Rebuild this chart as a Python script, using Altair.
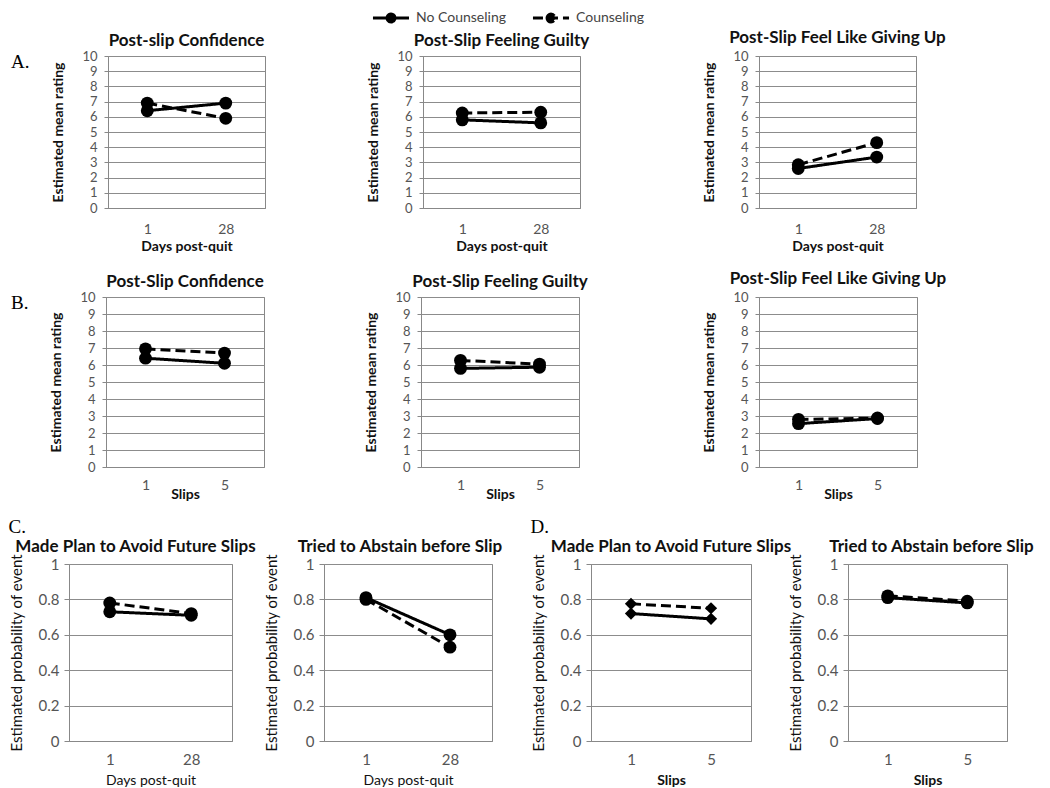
import altair as alt
import pandas as pd

FONT = "Lato"
SERIF = "Liberation Serif"
GROUPS = ["No Counseling", "Counseling"]

DAYS = ["1", "28"]
SLIPS = ["1", "5"]

# Row A: ratings by days post-quit
A_TITLES = ["Post-slip Confidence", "Post-Slip Feeling Guilty", "Post-Slip Feel Like Giving Up"]
A_NO = [[6.4, 6.9], [5.8, 5.6], [2.6, 3.35]]
A_CO = [[6.9, 5.9], [6.25, 6.3], [2.85, 4.3]]

# Row B: ratings by number of slips
B_TITLES = ["Post-Slip Confidence", "Post-Slip Feeling Guilty", "Post-Slip Feel Like Giving Up"]
B_NO = [[6.4, 6.1], [5.8, 5.87], [2.55, 2.85]]
B_CO = [[6.95, 6.7], [6.27, 6.05], [2.8, 2.88]]

# Rows C / D: probabilities
CD_TITLES = ["Made Plan to Avoid Future Slips", "Tried to Abstain before Slip"]
C_NO = [[0.73, 0.71], [0.81, 0.60]]
C_CO = [[0.78, 0.72], [0.80, 0.53]]
D_NO = [[0.72, 0.69], [0.81, 0.78]]
D_CO = [[0.775, 0.75], [0.82, 0.79]]

RATING_TICKS = list(range(0, 11))
PROB_TICKS = [0, 0.2, 0.4, 0.6, 0.8, 1.0]

LEGEND_PATH = ("M-1,0L1,0M-0.22,0A0.22,0.22,0,1,1,0.22,0"
               "A0.22,0.22,0,1,1,-0.22,0Z")


def panel(title, cats, xtitle, no, co, kind, width, height,
          shape="circle", title_dx=0, x_lp=12, x_tp=3, t_off=0):
    df = pd.DataFrame({
        "x": cats + cats,
        "y": no + co,
        "group": [GROUPS[0]] * len(cats) + [GROUPS[1]] * len(cats),
    })
    if kind == "rating":
        yscale = alt.Scale(domain=[0, 10], nice=False, zero=True)
        yaxis = alt.Axis(values=RATING_TICKS, title="Estimated mean rating",
                         grid=True, tickSize=4, labelPadding=7,
                         minExtent=30, maxExtent=30, titlePadding=13,
                         titleFontSize=14, titleFontWeight="bold",
                         labelFontSize=13)
        xlab, xtw = 14, "bold"
    else:
        yscale = alt.Scale(domain=[0, 1], nice=False, zero=True)
        yaxis = alt.Axis(values=PROB_TICKS, format=".1~f",
                         title="Estimated probability of event",
                         grid=True, tickSize=5, labelPadding=5,
                         minExtent=33, maxExtent=33, titlePadding=12,
                         titleFontSize=15, titleFontWeight="normal",
                         labelFontSize=15)
        xlab, xtw = 15, ("bold" if xtitle == "Slips" else "normal")
    xaxis = alt.Axis(title=xtitle, labelAngle=0, ticks=False, tickSize=0,
                     grid=False, labelPadding=x_lp, titlePadding=x_tp,
                     labelFontSize=xlab, titleFontSize=14,
                     titleFontWeight=xtw)
    base = alt.Chart(df).encode(
        x=alt.X("x:N", sort=cats, scale=alt.Scale(type="point", padding=0.5),
                axis=xaxis),
        y=alt.Y("y:Q", scale=yscale, axis=yaxis),
    )
    line = base.mark_line(color="black", strokeWidth=3).encode(
        strokeDash=alt.StrokeDash(
            "group:N",
            scale=alt.Scale(domain=GROUPS, range=[[1, 0], [10, 5]]),
            legend=alt.Legend(
                title=None, orient="none", legendX=360, legendY=-58,
                direction="horizontal", symbolType=LEGEND_PATH,
                symbolSize=1300, symbolStrokeWidth=3,
                symbolStrokeColor="black", symbolFillColor="black",
                labelFont=FONT, labelFontSize=14, labelColor="#444",
                columnPadding=20, labelOffset=5),
        )
    )
    size = 150 if shape == "diamond" else 165
    pts = base.mark_point(shape=shape, filled=True, color="black",
                          size=size, opacity=1).encode(detail="group:N")
    return alt.layer(line, pts).properties(
        width=width, height=height,
        title=alt.TitleParams(title, frame="group", anchor="middle",
                              offset=t_off, dx=title_dx),
    )


def spacer(letter=None):
    """Invisible 1px cell that anchors the row; optionally carries the
    panel letter (A., B.) as its title."""
    ch = alt.Chart(pd.DataFrame({"v": [0]})).mark_point(
        size=0, opacity=0).encode(
        x=alt.X("v:Q", axis=None), y=alt.Y("v:Q", axis=None))
    props = dict(width=1, height=1,
                 view=alt.ViewBackground(stroke="transparent"))
    if letter:
        props["title"] = alt.TitleParams(
            letter, orient="bottom", anchor="start", frame="group",
            baseline="top", align="left", font=SERIF, fontSize=19,
            fontWeight="normal", color="black", offset=0, dy=-4)
    return ch.properties(**props)


def letter_top(txt):
    return alt.TitleParams(txt, anchor="start", font=SERIF, fontSize=19,
                           fontWeight="normal", color="black", offset=0,
                           frame="bounds")


A = [panel(A_TITLES[i], DAYS, "Days post-quit", A_NO[i], A_CO[i],
           "rating", 157, 152, x_lp=14, x_tp=3, t_off=(3 if i == 2 else 0))
     for i in range(3)]
B = [panel(B_TITLES[i], SLIPS, "Slips", B_NO[i], B_CO[i],
           "rating", 158, 170, x_lp=11, x_tp=-5, t_off=(3 if i == 2 else 0))
     for i in range(3)]

C1 = panel(CD_TITLES[0], DAYS, "Days post-quit", C_NO[0], C_CO[0],
           "prob", 163, 177, title_dx=-15, x_lp=11, x_tp=6, t_off=-2)
C2 = panel(CD_TITLES[1], DAYS, "Days post-quit", C_NO[1], C_CO[1],
           "prob", 168, 177, title_dx=-8, x_lp=11, x_tp=6, t_off=-2)
D1 = panel(CD_TITLES[0], SLIPS, "Slips", D_NO[0], D_CO[0],
           "prob", 160, 177, shape="diamond", x_lp=11, x_tp=6, t_off=-2)
D2 = panel(CD_TITLES[1], SLIPS, "Slips", D_NO[1], D_CO[1],
           "prob", 159, 177, title_dx=4, x_lp=11, x_tp=6, t_off=-2)

rowA = alt.hconcat(
    spacer("A."),
    alt.hconcat(A[0], alt.hconcat(A[1], A[2], spacing=179, bounds="flush"),
                spacing=99),
    spacing=20)
rowB = alt.hconcat(
    spacer("B."),
    alt.hconcat(B[0], alt.hconcat(B[1], B[2], spacing=180, bounds="flush"),
                spacing=98),
    spacing=19)
groupC = alt.hconcat(C1, C2, spacing=92, bounds="flush", title=letter_top("C."))
groupD = alt.hconcat(D1, D2, spacing=97, bounds="flush", title=letter_top("D."))
rowCD = alt.hconcat(spacer(), alt.hconcat(groupC, groupD, spacing=27),
                    spacing=-5)

chart = alt.vconcat(
    alt.vconcat(rowA, rowB, spacing=15),
    rowCD,
    spacing=16,
).properties(
    padding={"left": 0, "top": -10, "right": 0, "bottom": 0},
    background="white",
).configure(
    font=FONT,
).configure_axis(
    labelFont=FONT, titleFont=FONT, labelColor="#555", titleColor="#111",
    domainColor="#888", tickColor="#888", gridColor="#8c8c8c",
    domainWidth=1, gridWidth=1,
).configure_view(
    stroke="#888", strokeWidth=1,
).configure_title(
    font=FONT, fontSize=17, fontWeight="bold", color="#111",
)

chart.save("out.html", embed_options={"renderer": "svg", "actions": False})
